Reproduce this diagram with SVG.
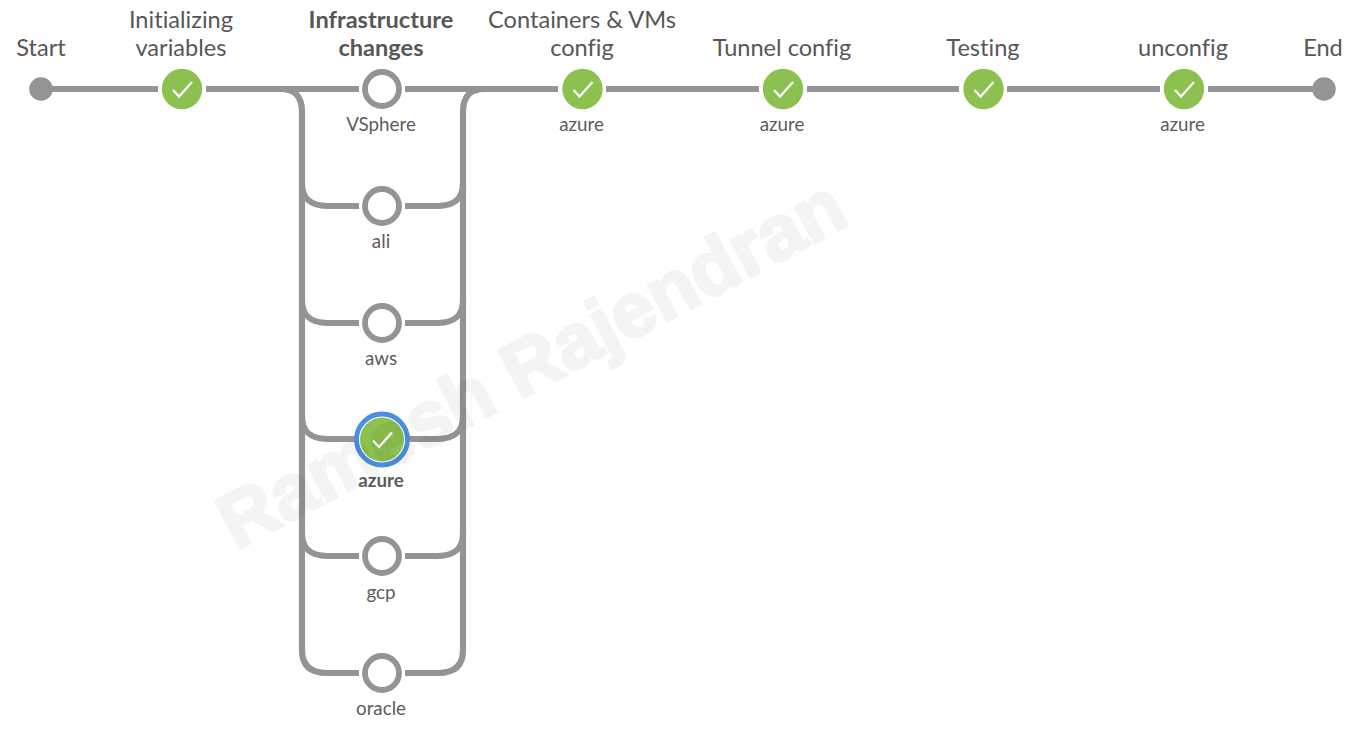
<svg xmlns="http://www.w3.org/2000/svg" width="1358" height="730" viewBox="0 0 1358 730">
<style>
text{font-family:Lato,"Liberation Sans",sans-serif;text-anchor:middle;fill:#575757;font-variant-ligatures:none}
.t{font-size:23.600px}
.s{font-size:18.800px;fill:#5c5c5c}
.b{font-weight:700}
.l{fill:none;stroke:#949494;stroke-width:6.200}
.ok{fill:#8cc04f}
.ck{fill:none;stroke:#fff;stroke-width:2.200}
.o{fill:#fff;stroke:#949494;stroke-width:5.800}
.g{fill:#949494}
.wm{font-family:"Liberation Sans",Arial,sans-serif;font-weight:700;font-size:77px;fill:#000;stroke:#000;stroke-width:3;opacity:.04}
</style>
<defs>
<g id="check"><circle class="ok" r="20.200"/><path class="ck" d="M-9,1 L-3,7.500 L10,-7"/></g>
</defs>
<g id="connectors">
<path class="l" d="M41,89H158M206,89H359M405,89H558M606,89H759M807,89H959M1007,89H1160M1208,89H1323"/>
<path class="l" d="M280,89C295,89 302,96 302,112V650C302,666 311,673 327,673H359"/>
<path class="l" d="M485,89C470,89 463,96 463,112V650C463,666 454,673 438,673H405"/>
<path class="l" d="M302,184C302,198 311,206 327,206H359M302,301C302,315 311,323 327,323H359M302,417C302,431 311,439 327,439H355M302,534C302,548 311,556 327,556H359"/>
<path class="l" d="M463,184C463,198 454,206 438,206H405M463,301C463,315 454,323 438,323H405M463,417C463,431 454,439 438,439H409M463,534C463,548 454,556 438,556H405"/>
</g>
<g id="start"><circle class="g" cx="41" cy="89" r="11.800"/><text class="t" x="41" y="56">Start</text></g>
<g id="init"><use href="#check" x="182" y="89"/><text class="t" x="181" y="28">Initializing</text><text class="t" x="181" y="56">variables</text></g>
<g id="vsphere"><circle cx="382" cy="89" r="17" class="o"/><text class="t b" x="381" y="28">Infrastructure</text><text class="t b" x="381" y="56">changes</text><text class="s" x="381" y="131">VSphere</text></g>
<g id="ali"><circle cx="382" cy="206" r="17" class="o"/><text class="s" x="381" y="248">ali</text></g>
<g id="aws"><circle cx="382" cy="323" r="17" class="o"/><text class="s" x="381" y="365">aws</text></g>
<g id="azure-selected"><circle cx="382" cy="439.500" r="25.500" fill="#fff" stroke="#4a90e2" stroke-width="4.800"/><circle class="ok" cx="382" cy="439.500" r="22"/><use href="#check" x="382" y="439.500"/><text class="s b" x="381" y="486.500">azure</text></g>
<g id="gcp"><circle cx="382" cy="556" r="17" class="o"/><text class="s" x="381" y="598.500">gcp</text></g>
<g id="oracle"><circle cx="382" cy="673" r="17" class="o"/><text class="s" x="381" y="715">oracle</text></g>
<g id="containers"><use href="#check" x="582.500" y="89"/><text class="t" x="582" y="28">Containers &amp; VMs</text><text class="t" x="582" y="56">config</text><text class="s" x="581.500" y="131">azure</text></g>
<g id="tunnel"><use href="#check" x="783" y="89"/><text class="t" x="782" y="56">Tunnel config</text><text class="s" x="782" y="131">azure</text></g>
<g id="testing"><use href="#check" x="983.500" y="89"/><text class="t" x="983" y="56">Testing</text></g>
<g id="unconfig"><use href="#check" x="1184" y="89"/><text class="t" x="1183" y="56">unconfig</text><text class="s" x="1182.500" y="131">azure</text></g>
<g id="end"><circle class="g" cx="1324" cy="89" r="11.800"/><text class="t" x="1323" y="56">End</text></g>
<text class="wm" transform="translate(531,363) rotate(-28)" x="0" y="27">Ramesh Rajendran</text>
</svg>
